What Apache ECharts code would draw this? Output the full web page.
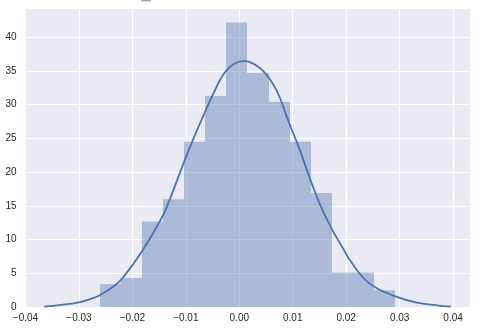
<!DOCTYPE html>
<html>
<head>
<meta charset="utf-8">
<script src="https://cdn.jsdelivr.net/npm/echarts@6/dist/echarts.min.js"></script>
<style>html,body{margin:0;padding:0;background:#fff;}#c{width:487px;height:336px;}</style>
</head>
<body>
<div id="c"></div>
<script>
// Histogram bin edges
const binEdges = [-0.02609, -0.02214, -0.01819, -0.01425, -0.01030, -0.00636, -0.00241, 0.00153, 0.00548, 0.00942, 0.01337, 0.01731, 0.02126, 0.02520, 0.02915];
// Histogram densities per bin
const binHeights = [3.4, 4.3, 12.7, 16.0, 24.5, 31.3, 42.2, 34.7, 30.4, 24.5, 16.9, 5.1, 5.1, 2.5];
// KDE curve samples
const kdeX = [-0.03652, -0.03358, -0.02996, -0.02796, -0.02609, -0.02328, -0.02172, -0.01816, -0.01453, -0.01298, -0.01049, -0.00861, -0.00704, -0.00487, -0.00300, -0.00112, 0.00088, 0.00262, 0.00449, 0.00637, 0.00762, 0.00918, 0.01137, 0.01324, 0.01511, 0.01730, 0.01948, 0.02041, 0.02322, 0.02573, 0.02948, 0.03322, 0.03697, 0.03959];
const kdeY = [0.05, 0.28, 0.7, 1.15, 1.75, 3.2, 4.4, 8.3, 13.2, 16.0, 21.2, 24.9, 27.8, 31.6, 34.5, 36.0, 36.5, 36.1, 35.0, 33.0, 31.0, 27.6, 23.2, 19.0, 15.2, 11.6, 8.6, 7.3, 4.3, 2.77, 1.5, 0.64, 0.25, 0.05];
const xTicks = [-0.04, -0.03, -0.02, -0.01, 0.00, 0.01, 0.02, 0.03, 0.04];
const yTicks = [0, 5, 10, 15, 20, 25, 30, 35, 40];

const histData = binHeights.map((h, i) => [binEdges[i], binEdges[i + 1], h]);
const kdeData = kdeX.map((x, i) => [x, kdeY[i]]);

const chart = echarts.init(document.getElementById('c'), null, {renderer: 'canvas'});
const txt = '#262626';
const font = 'Liberation Sans, Arial, sans-serif';
function isTick(v, list) { return list.some(t => Math.abs(t - v) < 1e-9); }

chart.setOption({
  animation: false,
  backgroundColor: '#ffffff',
  grid: {left: 25.5, top: 8, width: 445.2, height: 299, show: true, backgroundColor: '#EAEAF2', borderWidth: 0, containLabel: false},
  xAxis: {
    type: 'value', min: -0.04, max: 0.0433, interval: 0.01,
    axisLine: {show: false}, axisTick: {show: false},
    splitLine: {show: true, lineStyle: {color: '#ffffff', width: 1.1}},
    axisLabel: {
      color: txt, fontSize: 10, fontFamily: font, margin: 6,
      formatter: v => isTick(v, xTicks) ? (v < -1e-12 ? '\u2212' + Math.abs(v).toFixed(2) : Math.abs(v).toFixed(2)) : ''
    }
  },
  yAxis: {
    type: 'value', min: 0, max: 44.35, interval: 5,
    axisLine: {show: false}, axisTick: {show: false},
    splitLine: {show: true, lineStyle: {color: '#ffffff', width: 1.1}},
    axisLabel: {
      color: txt, fontSize: 10, fontFamily: font, margin: 9,
      formatter: v => isTick(v, yTicks) ? String(Math.round(v)) : ''
    }
  },
  graphic: [{type: 'rect', left: 141, top: 0, shape: {width: 10, height: 1.5}, style: {fill: '#aaaaaa'}, silent: true}],
  series: [
    {
      type: 'custom',
      data: histData,
      encode: {x: [0, 1], y: 2},
      clip: true,
      renderItem: function (params, api) {
        const p0 = api.coord([api.value(0), api.value(2)]);
        const p1 = api.coord([api.value(1), 0]);
        const x = Math.round(p0[0]);
        const x2 = Math.round(p1[0]);
        return {
          type: 'rect',
          shape: {x: x, y: p0[1], width: x2 - x, height: p1[1] - p0[1]},
          style: {fill: '#4C72B0', opacity: 0.4}
        };
      }
    },
    {
      type: 'line',
      data: kdeData,
      smooth: 0.4,
      showSymbol: false,
      symbol: 'none',
      lineStyle: {color: '#4C72B0', width: 1.8},
      z: 3
    }
  ]
});
</script>
</body>
</html>
